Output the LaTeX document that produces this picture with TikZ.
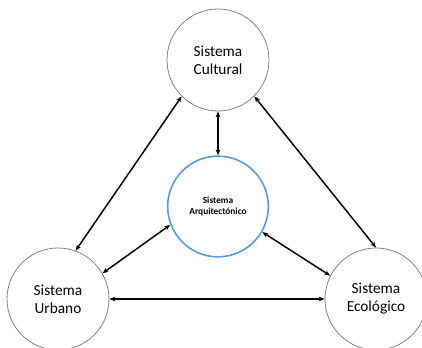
\documentclass[tikz,border=0pt]{standalone}
\usepackage{fontspec}
\setmainfont{Carlito}
\usetikzlibrary{arrows.meta}
\definecolor{azul}{RGB}{91,155,213}

\begin{document}
\begin{tikzpicture}[x=0.75pt, y=-0.75pt,
    sistema/.style={circle, draw=gray, line width=0.6pt, minimum size=76.5pt, align=center, font=\fontsize{11.5}{13.5}\selectfont},
    nucleo/.style={circle, draw=azul, line width=1.2pt, minimum size=75.5pt, align=center, font=\bfseries\fontsize{7}{8.5}\selectfont},
    enlace/.style={{Stealth[length=4.5pt,width=3.5pt]}-{Stealth[length=4.5pt,width=3.5pt]}, line width=1.1pt}]
    \useasboundingbox (0,0) rectangle (422,348);

    \node [sistema] (cultural) at (218,60) {Sistema\\Cultural};
    \node [nucleo] (arq) at (218,206.5) {Sistema\\Arquitectónico};
    \node [sistema] (urbano) at (58,299) {Sistema\\Urbano};
    \node [sistema] (ecologico) at (376,299) {Sistema\\Ecológico};

    \draw [enlace] (cultural.south) -- (arq.north);
    \draw [enlace] (cultural.225) -- (urbano.70);
    \draw [enlace] (cultural.315) -- (ecologico.90);
    \draw [enlace] (arq.201) -- (urbano.30);
    \draw [enlace] (arq.330) -- (ecologico.153);
    \draw [enlace] (urbano.east) -- (ecologico.west);
\end{tikzpicture}
\end{document}
